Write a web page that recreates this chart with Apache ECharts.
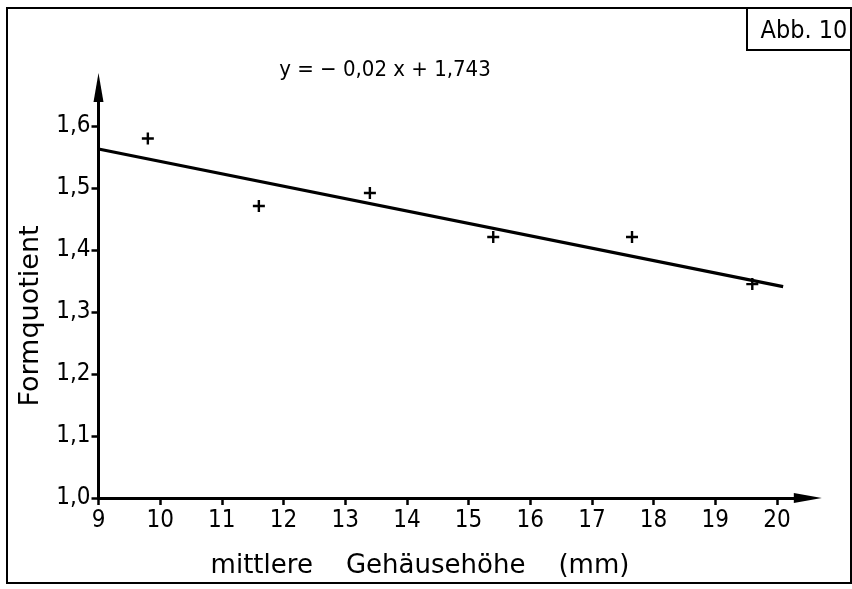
<!DOCTYPE html>
<html><head><meta charset="utf-8">
<script src="https://cdn.jsdelivr.net/npm/echarts@6/dist/echarts.min.js"></script>
<style>html,body{margin:0;padding:0;background:#fff}#c{width:852px;height:589px}</style>
</head><body><div id="c"></div>
<script>
// ---- data ----
const xTicks = [9, 10, 11, 12, 13, 14, 15, 16, 17, 18, 19, 20];
const yTicks = [1.0, 1.1, 1.2, 1.3, 1.4, 1.5, 1.6];
const heights = [9.8, 11.6, 13.4, 15.4, 17.65, 19.6];
const quotients = [1.58, 1.471, 1.492, 1.421, 1.421, 1.345];
const fitX = [9, 20.1];
const fitY = [1.563, 1.341];
const xRange = [9, 20.5];
const yRange = [1.0, 1.662];
const equation = 'y = \u2212 0,02 x + 1,743';
const figLabel = 'Abb. 10';
const xName = 'mittlere    Geh\u00e4useh\u00f6he    (mm)';
const yName = 'Formquotient';

const FONT = '"DejaVu Sans Condensed", "Liberation Sans Narrow", "DejaVu Sans", sans-serif';
const FONT_W = '"DejaVu Sans", sans-serif';
const chart = echarts.init(document.getElementById('c'), null, {renderer: 'canvas'});
const pts = heights.map((h, i) => [h, quotients[i]]);
const fit = fitX.map((x, i) => [x, fitY[i]]);
const plus = 'path://M4,0h2v4h4v2h-4v4h-2v-4h-4v-2h4z';

chart.setOption({
  animation: false,
  backgroundColor: '#fff',
  grid: {left: 98.5, right: 44.2, top: 87.6, bottom: 91, containLabel: false},
  xAxis: {
    type: 'value', min: xRange[0], max: xRange[1],
    splitLine: {show: false},
    axisLine: {show: true, onZero: false, lineStyle: {color: '#000', width: 3},
      symbol: ['none', 'triangle'], symbolSize: [10, 28]},
    axisTick: {show: true, length: 7, customValues: xTicks, lineStyle: {color: '#000', width: 2.5}},
    axisLabel: {customValues: xTicks, margin: 11, color: '#000', fontSize: 24, fontFamily: FONT,
      formatter: v => String(v)}
  },
  yAxis: {
    type: 'value', min: yRange[0], max: yRange[1],
    splitLine: {show: false},
    axisLine: {show: true, onZero: false, lineStyle: {color: '#000', width: 3},
      symbol: ['none', 'triangle'], symbolSize: [10, 29]},
    axisTick: {show: true, length: 7, customValues: yTicks, lineStyle: {color: '#000', width: 2.5}},
    axisLabel: {customValues: yTicks, margin: 8, color: '#000', fontSize: 24, fontFamily: FONT,
      formatter: v => v.toFixed(1).replace('.', ',')}
  },
  series: [
    {type: 'line', data: fit, showSymbol: false, lineStyle: {color: '#000', width: 3.2}, z: 2},
    {type: 'scatter', data: pts, symbol: plus, symbolSize: 12, itemStyle: {color: '#000', opacity: 1}, z: 3}
  ],
  graphic: [
    {type: 'rect', shape: {x: 7, y: 8, width: 844, height: 575}, style: {fill: 'none', stroke: '#000', lineWidth: 2}},
    {type: 'rect', shape: {x: 747, y: 8, width: 104, height: 42}, style: {fill: 'none', stroke: '#000', lineWidth: 2}},
    {type: 'text', x: 804, y: 31, style: {text: figLabel, font: '25px ' + FONT, fill: '#000', textAlign: 'center', textVerticalAlign: 'middle'}},
    {type: 'text', x: 385, y: 70, style: {text: equation, font: '22px ' + FONT, fill: '#000', textAlign: 'center', textVerticalAlign: 'middle'}},
    {type: 'text', x: 420, y: 566, style: {text: xName, font: '26px ' + FONT_W, fill: '#000', textAlign: 'center', textVerticalAlign: 'middle'}},
    {type: 'text', x: 31, y: 316, rotation: Math.PI / 2, style: {text: yName, font: '27px ' + FONT_W, fill: '#000', textAlign: 'center', textVerticalAlign: 'middle'}}
  ]
});
</script></body></html>
